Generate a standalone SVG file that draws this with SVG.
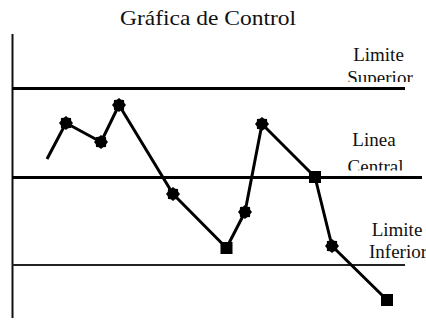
<svg xmlns="http://www.w3.org/2000/svg" width="426" height="320" viewBox="0 0 426 320">
<style>
text{font-family:'Liberation Serif','DejaVu Serif',serif;fill:#111;}
.lbl{font-size:19px;text-anchor:middle;}
.ax{stroke:#111;stroke-width:2;fill:none;}
.lim{stroke:#000;stroke-width:3;fill:none;}
.thin{stroke:#222;stroke-width:1.8;fill:none;}
.data{stroke:#000;stroke-width:3;fill:none;stroke-linejoin:round;}
</style>
<defs>
<polygon id="star" points="0,-7 2.2,-5.2 5,-5 5.2,-2.2 7,0 5.2,2.2 5,5 2.2,5.2 0,7 -2.2,5.2 -5,5 -5.2,2.2 -7,0 -5.2,-2.2 -5,-5 -2.2,-5.2" fill="#000"/>
<rect id="sq" x="-6" y="-6" width="12" height="12" fill="#000"/>
<clipPath id="c1"><rect x="330" y="40" width="96" height="42"/></clipPath>
<clipPath id="c2"><rect x="330" y="120" width="96" height="50.5"/></clipPath>
</defs>
<rect width="426" height="320" fill="#fff"/>
<text font-family="Liberation Serif, serif" x="208" y="25" font-size="22" text-anchor="middle" textLength="176" lengthAdjust="spacingAndGlyphs">Gráfica de Control</text>
<g id="axis"><line class="ax" x1="12.5" y1="34" x2="12.5" y2="318"/></g>
<g id="upper"><line class="lim" x1="12" y1="88.5" x2="405" y2="88.5"/>
<g clip-path="url(#c1)"><text class="lbl" x="378.5" y="61">Limite</text><text class="lbl" x="380" y="84">Superior</text></g></g>
<g id="central"><line class="lim" x1="12" y1="177.5" x2="422" y2="177.5"/>
<g clip-path="url(#c2)"><text class="lbl" x="374" y="146">Linea</text><text class="lbl" x="375.5" y="173">Central</text></g></g>
<g id="lower"><line class="thin" x1="12" y1="265" x2="405" y2="265"/>
<text class="lbl" x="397" y="236">Limite</text><text class="lbl" x="398" y="258">Inferior</text></g>
<g id="connectors"><polyline class="data" points="47,159 66,123 101,142 119,105 173,194 226.5,248 245,212 262,124 315,177 332,246 387,300"/></g>
<g id="points">
<use href="#star" x="66" y="123"/>
<use href="#star" x="101" y="142"/>
<use href="#star" x="119" y="105"/>
<use href="#star" x="173" y="194"/>
<use href="#sq" x="226.5" y="248"/>
<use href="#star" x="245" y="212"/>
<use href="#star" x="262" y="124"/>
<use href="#sq" x="315" y="177"/>
<use href="#star" x="332" y="246"/>
<use href="#sq" x="387" y="300"/>
</g>
</svg>
